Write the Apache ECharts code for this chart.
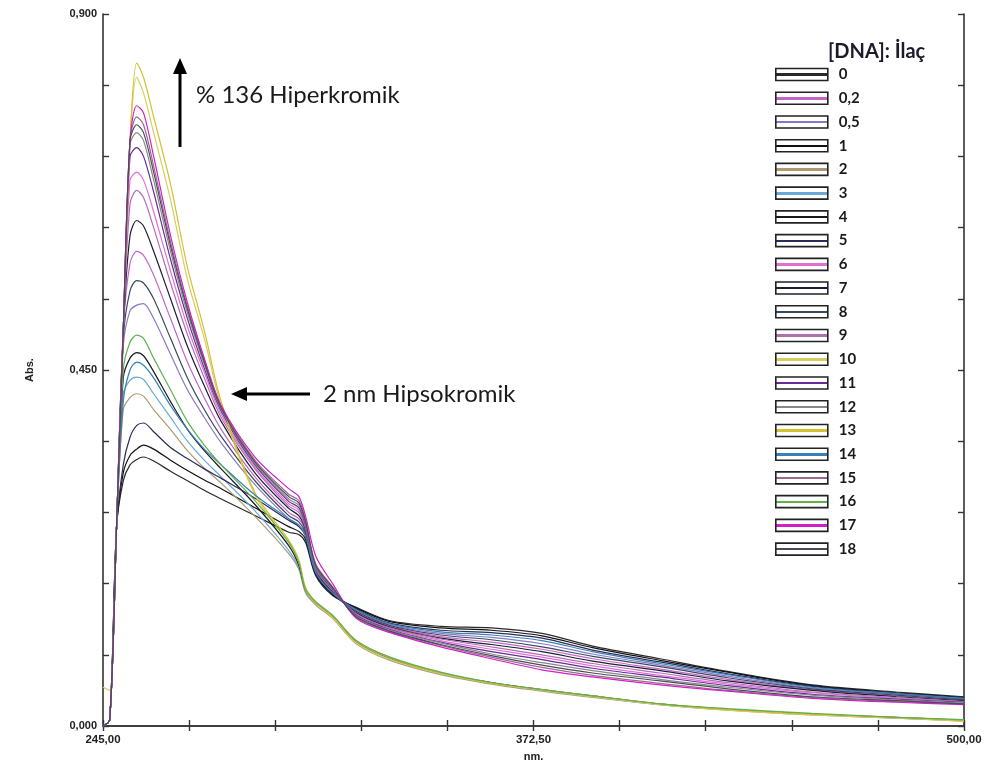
<!DOCTYPE html>
<html>
<head>
<meta charset="utf-8">
<script src="https://cdn.jsdelivr.net/npm/echarts@6/dist/echarts.min.js"></script>
<style>html,body{margin:0;padding:0;background:#fff}#c{width:986px;height:771px}</style>
</head>
<body>
<div id="c"></div>
<script>
// Wavelengths (nm)
var wavelengths = [245, 247, 249, 251, 253, 255, 257, 260, 265, 270, 275, 280, 290, 300, 303, 305, 308, 313, 320, 330, 345, 360, 375, 390, 410, 430, 455, 480, 500];

// Legend names ([DNA]: drug ratio)
var names = ['0', '0,2', '0,5', '1', '2', '3', '4', '5', '6', '7', '8', '9', '10', '11', '12', '13', '14', '15', '16', '17', '18'];

// Absorbance values for each ratio
var abs_0   = [0, 0.008, 0.25, 0.31, 0.33, 0.337, 0.34, 0.335, 0.322, 0.31, 0.298, 0.287, 0.266, 0.245, 0.242, 0.232, 0.19, 0.165, 0.150, 0.133, 0.126, 0.124, 0.117, 0.101, 0.085, 0.069, 0.052, 0.043, 0.037];
var abs_0_2 = [0, 0.008, 0.25, 0.50, 0.585, 0.60, 0.595, 0.57, 0.515, 0.46, 0.415, 0.375, 0.315, 0.27, 0.262, 0.246, 0.196, 0.169, 0.144, 0.126, 0.113, 0.106, 0.097, 0.085, 0.072, 0.059, 0.046, 0.038, 0.033];
var abs_0_5 = [0, 0.008, 0.25, 0.48, 0.525, 0.532, 0.534, 0.515, 0.47, 0.425, 0.39, 0.358, 0.305, 0.262, 0.254, 0.242, 0.194, 0.167, 0.146, 0.128, 0.117, 0.112, 0.104, 0.091, 0.077, 0.063, 0.048, 0.040, 0.034];
var abs_1   = [0, 0.008, 0.25, 0.32, 0.342, 0.35, 0.355, 0.35, 0.336, 0.323, 0.311, 0.30, 0.276, 0.252, 0.246, 0.236, 0.192, 0.166, 0.149, 0.132, 0.124, 0.121, 0.114, 0.099, 0.083, 0.068, 0.051, 0.042, 0.036];
var abs_2   = [0, 0.008, 0.25, 0.40, 0.415, 0.42, 0.417, 0.40, 0.375, 0.348, 0.326, 0.307, 0.265, 0.218, 0.198, 0.168, 0.153, 0.136, 0.104, 0.083, 0.065, 0.053, 0.044, 0.036, 0.027, 0.020, 0.014, 0.010, 0.006];
var abs_3   = [0, 0.008, 0.25, 0.42, 0.437, 0.441, 0.438, 0.42, 0.39, 0.36, 0.336, 0.315, 0.272, 0.222, 0.2, 0.17, 0.155, 0.138, 0.106, 0.085, 0.066, 0.054, 0.045, 0.037, 0.027, 0.021, 0.015, 0.010, 0.007];
var abs_4   = [0, 0.008, 0.25, 0.44, 0.465, 0.472, 0.468, 0.448, 0.41, 0.375, 0.348, 0.325, 0.28, 0.228, 0.203, 0.172, 0.156, 0.139, 0.107, 0.086, 0.067, 0.055, 0.046, 0.038, 0.028, 0.021, 0.015, 0.011, 0.007];
var abs_5   = [0, 0.008, 0.25, 0.33, 0.365, 0.38, 0.383, 0.372, 0.352, 0.338, 0.325, 0.313, 0.288, 0.26, 0.252, 0.24, 0.194, 0.168, 0.148, 0.130, 0.121, 0.118, 0.111, 0.096, 0.081, 0.066, 0.050, 0.041, 0.035];
var abs_6   = [0, 0.008, 0.25, 0.50, 0.69, 0.70, 0.69, 0.65, 0.575, 0.505, 0.447, 0.394, 0.327, 0.281, 0.273, 0.252, 0.199, 0.172, 0.141, 0.123, 0.108, 0.097, 0.087, 0.076, 0.064, 0.053, 0.042, 0.035, 0.031];
var abs_7   = [0, 0.008, 0.25, 0.50, 0.62, 0.639, 0.632, 0.60, 0.54, 0.48, 0.43, 0.385, 0.32, 0.275, 0.266, 0.248, 0.197, 0.17, 0.143, 0.125, 0.111, 0.103, 0.094, 0.082, 0.070, 0.057, 0.045, 0.037, 0.032];
var abs_8   = [0, 0.008, 0.25, 0.49, 0.55, 0.563, 0.56, 0.54, 0.49, 0.44, 0.40, 0.366, 0.31, 0.266, 0.258, 0.244, 0.195, 0.168, 0.145, 0.127, 0.115, 0.109, 0.100, 0.088, 0.075, 0.061, 0.047, 0.039, 0.033];
var abs_9   = [0, 0.008, 0.25, 0.50, 0.66, 0.677, 0.668, 0.63, 0.56, 0.495, 0.44, 0.39, 0.325, 0.278, 0.27, 0.25, 0.198, 0.171, 0.142, 0.124, 0.110, 0.100, 0.090, 0.079, 0.067, 0.055, 0.043, 0.036, 0.031];
var abs_10  = [0.049, 0.045, 0.25, 0.50, 0.74, 0.82, 0.80, 0.75, 0.665, 0.565, 0.49, 0.405, 0.292, 0.232, 0.208, 0.172, 0.155, 0.137, 0.105, 0.084, 0.066, 0.054, 0.045, 0.037, 0.027, 0.020, 0.014, 0.010, 0.006];
var abs_11  = [0, 0.008, 0.25, 0.50, 0.72, 0.731, 0.72, 0.675, 0.59, 0.515, 0.452, 0.398, 0.33, 0.284, 0.276, 0.254, 0.2, 0.173, 0.140, 0.122, 0.106, 0.094, 0.084, 0.073, 0.062, 0.051, 0.040, 0.034, 0.030];
var abs_12  = [0, 0.008, 0.25, 0.50, 0.735, 0.75, 0.74, 0.69, 0.60, 0.522, 0.457, 0.40, 0.332, 0.287, 0.279, 0.256, 0.201, 0.174, 0.139, 0.121, 0.105, 0.091, 0.080, 0.070, 0.059, 0.049, 0.039, 0.033, 0.029];
var abs_13  = [0, 0.008, 0.25, 0.50, 0.74, 0.838, 0.82, 0.77, 0.685, 0.58, 0.50, 0.41, 0.295, 0.235, 0.21, 0.175, 0.157, 0.139, 0.107, 0.086, 0.067, 0.054, 0.046, 0.038, 0.028, 0.021, 0.015, 0.011, 0.007];
var abs_14  = [0, 0.008, 0.25, 0.41, 0.45, 0.46, 0.456, 0.44, 0.405, 0.375, 0.35, 0.33, 0.292, 0.262, 0.254, 0.24, 0.194, 0.168, 0.147, 0.129, 0.119, 0.115, 0.108, 0.094, 0.079, 0.065, 0.049, 0.041, 0.035];
var abs_15  = [0, 0.008, 0.25, 0.50, 0.74, 0.77, 0.76, 0.708, 0.612, 0.53, 0.462, 0.404, 0.336, 0.293, 0.285, 0.26, 0.205, 0.176, 0.137, 0.119, 0.102, 0.087, 0.074, 0.064, 0.054, 0.045, 0.036, 0.031, 0.028];
var abs_16  = [0, 0.008, 0.25, 0.45, 0.485, 0.494, 0.49, 0.465, 0.425, 0.385, 0.355, 0.33, 0.285, 0.232, 0.206, 0.173, 0.157, 0.14, 0.108, 0.087, 0.068, 0.055, 0.046, 0.038, 0.028, 0.022, 0.016, 0.011, 0.008];
var abs_17  = [0, 0.008, 0.25, 0.50, 0.74, 0.784, 0.775, 0.72, 0.62, 0.535, 0.465, 0.405, 0.34, 0.30, 0.29, 0.265, 0.215, 0.18, 0.136, 0.118, 0.100, 0.085, 0.071, 0.062, 0.052, 0.044, 0.035, 0.030, 0.027];
var abs_18  = [0, 0.008, 0.25, 0.50, 0.74, 0.76, 0.75, 0.70, 0.607, 0.527, 0.46, 0.402, 0.334, 0.29, 0.282, 0.258, 0.203, 0.175, 0.138, 0.120, 0.103, 0.089, 0.077, 0.067, 0.057, 0.047, 0.037, 0.032, 0.028];

var seriesValues = [abs_0, abs_0_2, abs_0_5, abs_1, abs_2, abs_3, abs_4, abs_5, abs_6, abs_7, abs_8, abs_9, abs_10, abs_11, abs_12, abs_13, abs_14, abs_15, abs_16, abs_17, abs_18];

var colors = ['#2a2a2a', '#c466c8', '#8a78c8', '#111111', '#b09870', '#6aaad8', '#1a1a1a', '#2a2d5a', '#e070d8', '#1c1c3c', '#3a4a5a', '#b070b0', '#d8cc60', '#6a2a9a', '#888888', '#d4c030', '#3a80b8', '#9a6a90', '#60b050', '#d020c8', '#4a4a5a'];

// Axis ticks / labels
var xTickValues = [245, 270.5, 296, 321.5, 347, 372.5, 398, 423.5, 449, 474.5, 500];
var xLabelValues = [245, 372.5, 500];
var yTickValues = [0, 0.09, 0.18, 0.27, 0.36, 0.45, 0.54, 0.63, 0.72, 0.81, 0.9];
var yLabelValues = [0, 0.45, 0.9];

function fmt(v, d) { return v.toFixed(d).replace('.', ','); }

function legendFill(c) {
  return {type: 'linear', x: 0, y: 0, x2: 0, y2: 1, colorStops: [
    {offset: 0, color: '#fff'}, {offset: 0.42, color: '#fff'},
    {offset: 0.42, color: c}, {offset: 0.6, color: c},
    {offset: 0.6, color: '#fff'}, {offset: 1, color: '#fff'}]};
}

var series = names.map(function (n, i) {
  return {
    name: n, type: 'line', xAxisIndex: 0, yAxisIndex: 0,
    data: wavelengths.map(function (w, k) { return [w, seriesValues[i][k]]; }),
    showSymbol: false, symbol: 'none', smooth: 0.3,
    lineStyle: {color: colors[i], width: 1.2}, itemStyle: {color: colors[i]},
    silent: true, animation: false
  };
});

var labelFont = {fontFamily: 'Liberation Sans', fontWeight: 'bold', fontSize: 11, color: '#222'};
var axisLine = {show: true, lineStyle: {color: '#333', width: 1.6}};

var chart = echarts.init(document.getElementById('c'));
chart.setOption({
  animation: false,
  backgroundColor: '#fff',
  grid: {left: 103, right: 22, top: 14, bottom: 45, containLabel: false},
  xAxis: [{
    type: 'value', min: 245, max: 500, position: 'bottom',
    name: 'nm.', nameLocation: 'middle', nameGap: 25,
    nameTextStyle: labelFont,
    axisLine: axisLine, splitLine: {show: false},
    axisTick: {inside: true, length: 6, customValues: xTickValues, lineStyle: {color: '#333', width: 1.4}},
    axisLabel: {customValues: xLabelValues, margin: 8, formatter: function (v) { return fmt(v, 2); }, fontFamily: labelFont.fontFamily, fontWeight: 'bold', fontSize: 11.5, color: '#222'}
  }, {
    type: 'value', min: 245, max: 500, position: 'top',
    axisLine: axisLine, splitLine: {show: false},
    axisTick: {inside: true, length: 5, customValues: xTickValues, lineStyle: {color: '#333', width: 1.4}},
    axisLabel: {show: false}
  }],
  yAxis: [{
    type: 'value', min: 0, max: 0.9, position: 'left',
    name: 'Abs.', nameLocation: 'middle', nameGap: 68, nameRotate: 90,
    nameTextStyle: labelFont,
    axisLine: axisLine, splitLine: {show: false},
    axisTick: {inside: true, length: 6, customValues: yTickValues, lineStyle: {color: '#333', width: 1.4}},
    axisLabel: {customValues: yLabelValues, margin: 6, formatter: function (v) { return fmt(v, 3); }, fontFamily: labelFont.fontFamily, fontWeight: 'bold', fontSize: 11, color: '#222'}
  }, {
    type: 'value', min: 0, max: 0.9, position: 'right',
    axisLine: axisLine, splitLine: {show: false},
    axisTick: {inside: true, length: 6, customValues: yTickValues, lineStyle: {color: '#333', width: 1.4}},
    axisLabel: {show: false}
  }],
  legend: {
    orient: 'vertical', left: 770, top: 62,
    itemWidth: 52, itemHeight: 12, itemGap: 8.73,
    selectedMode: false,
    textStyle: {fontFamily: 'Lato', fontWeight: 'bold', fontSize: 15, color: '#1a1a1a', padding: [0, 0, 0, 6]},
    data: names.map(function (n, i) {
      return {name: n, icon: 'rect', itemStyle: {color: legendFill(colors[i]), borderColor: '#222', borderWidth: 1.6}};
    })
  },
  graphic: [
    {type: 'line', shape: {x1: 180, y1: 147, x2: 180, y2: 70}, style: {stroke: '#000', lineWidth: 3}},
    {type: 'polygon', shape: {points: [[173, 74], [180, 58], [187, 74]]}, style: {fill: '#000'}},
    {type: 'text', x: 196, y: 95, style: {text: '% 136 Hiperkromik', font: '24px Lato', fill: '#1a1a1a', verticalAlign: 'middle'}},
    {type: 'line', shape: {x1: 310, y1: 394, x2: 243, y2: 394}, style: {stroke: '#000', lineWidth: 3}},
    {type: 'polygon', shape: {points: [[247, 387], [231, 394], [247, 401]]}, style: {fill: '#000'}},
    {type: 'text', x: 323, y: 394, style: {text: '2 nm Hipsokromik', font: '24px Lato', fill: '#1a1a1a', verticalAlign: 'middle'}},
    {type: 'text', x: 828, y: 52, style: {text: '[DNA]: İlaç', font: 'bold 20px Lato', fill: '#1a1a2a', verticalAlign: 'middle'}}
  ],
  series: series
});
</script>
</body>
</html>
